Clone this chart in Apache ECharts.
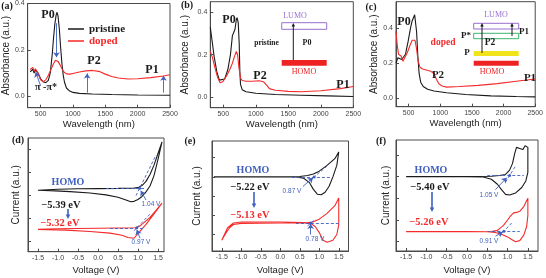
<!DOCTYPE html>
<html><head><meta charset="utf-8">
<script src="https://cdn.jsdelivr.net/npm/echarts@6/dist/echarts.min.js"></script>
<style>html,body{margin:0;padding:0;background:#fff}#c{width:546px;height:278px}</style>
</head><body><div id="c"></div>
<script>
// ---------- DATA ----------
// (a) absorbance vs wavelength (nm)
const aPriX = [340,360,380,400,420,440,460,480,500,540,580,620,650,680,700,720,740,755,770,790,810,830,850,870,900,950,1000,1100,1300,1600,2000,2500];
const aPriY = [0.105,0.112,0.116,0.1,0.112,0.115,0.1,0.088,0.075,0.062,0.058,0.068,0.1,0.18,0.25,0.31,0.35,0.362,0.345,0.29,0.21,0.14,0.09,0.06,0.035,0.022,0.016,0.012,0.009,0.007,0.005,0.004];
const aDopX = [340,360,380,400,420,440,460,480,500,540,580,620,660,700,730,750,770,800,830,860,900,950,1000,1100,1200,1300,1400,1500,1600,1700,1850,2000,2200,2400,2500];
const aDopY = [0.115,0.12,0.124,0.108,0.118,0.12,0.1,0.085,0.07,0.062,0.07,0.09,0.115,0.14,0.155,0.157,0.15,0.135,0.118,0.104,0.096,0.095,0.098,0.104,0.109,0.111,0.107,0.095,0.085,0.078,0.074,0.075,0.08,0.087,0.092];
// (b)
const bPriX = [300,330,360,400,440,470,520,570,610,640,660,680,700,712,730,745,755,765,790,850,1000,1300,1700,2100,2500];
const bPriY = [0.33,0.26,0.19,0.12,0.08,0.072,0.085,0.13,0.2,0.29,0.305,0.32,0.365,0.375,0.35,0.25,0.12,0.06,0.035,0.025,0.018,0.012,0.009,0.006,0.003];
const bDopX = [300,330,370,410,450,490,550,600,640,670,700,720,740,765,790,850,950,1050,1120,1170,1210,1300,1500,1700,2000,2300,2500];
const bDopY = [0.215,0.19,0.14,0.095,0.068,0.072,0.1,0.13,0.16,0.19,0.215,0.2,0.14,0.09,0.078,0.075,0.075,0.077,0.072,0.055,0.04,0.032,0.027,0.025,0.03,0.04,0.05];
// (c)
const cPriX = [300,330,360,390,420,450,490,530,555,575,595,610,625,645,665,690,730,800,900,1100,1400,1800,2200,2500];
const cPriY = [0.2,0.23,0.24,0.22,0.215,0.25,0.32,0.4,0.44,0.45,0.475,0.47,0.38,0.24,0.14,0.09,0.065,0.05,0.04,0.03,0.02,0.012,0.008,0.006];
const cDopX = [300,320,340,360,380,410,440,480,520,555,580,600,625,650,680,720,780,850,900,940,980,1030,1100,1300,1600,1900,2200,2500];
const cDopY = [0.38,0.3,0.25,0.255,0.24,0.21,0.22,0.26,0.3,0.33,0.337,0.33,0.28,0.21,0.175,0.165,0.16,0.152,0.14,0.105,0.08,0.068,0.062,0.065,0.072,0.082,0.095,0.108];
// (d) cyclic voltammetry, current in arbitrary units
const dPriV = [-1.5,-1.0,-0.5,0,0.5,0.9,1.0,1.1,1.2,1.3,1.4,1.5,1.6,1.5,1.4,1.3,1.2,1.1,1.0,0.9,0.82,0.7,0.5,0.2,-0.2,-0.7,-1.2,-1.5];
const dPriI = [2.22,2.26,2.28,2.29,2.3,2.31,2.33,2.42,2.6,2.9,3.3,3.8,4.3,3.55,2.85,2.4,2.15,1.95,1.82,1.74,1.72,1.8,1.92,2.02,2.1,2.16,2.2,2.22];
const dDopV = [-1.5,-1.0,0,0.5,0.95,1.05,1.15,1.3,1.45,1.6,1.4,1.2,1.0,0.9,0.85,0.75,0.6,0.3,-0.2,-0.8,-1.5];
const dDopI = [0.53,0.56,0.58,0.59,0.6,0.68,0.82,1.05,1.35,1.66,1.2,0.75,0.35,0.15,0.1,0.18,0.28,0.37,0.44,0.5,0.53];
// (e)
const ePriV = [-1.7,-1.0,0,0.5,0.7,0.85,1.0,1.2,1.4,1.5,1.45,1.35,1.25,1.15,1.05,0.95,0.85,0.75,0.6,0.4,0,-1.0,-1.7];
const ePriI = [3.0,3.0,3.0,3.02,3.07,3.15,3.3,3.6,3.95,4.3,3.6,3.0,2.5,2.2,2.07,2.1,2.35,2.7,2.93,3.0,3.01,3.01,3.0];
const eDopV = [-1.5,-1.4,-1.3,-1.2,-1.0,0,0.6,0.8,1.0,1.2,1.4,1.5,1.5,1.45,1.35,1.2,1.1,1.0,0.9,0.8,0.6,0,-1.0,-1.2,-1.35,-1.5];
const eDopI = [-0.3,0.05,0.35,0.52,0.58,0.6,0.6,0.63,0.8,1.1,1.5,1.9,0.5,0.0,-0.3,-0.4,-0.3,0.1,0.4,0.55,0.62,0.65,0.65,0.6,0.35,-0.3];
// (f)
const fPriV = [-1.5,0,0.6,0.8,0.95,1.05,1.12,1.18,1.22,1.3,1.38,1.43,1.5,1.5,1.45,1.35,1.2,1.05,0.95,0.85,0.75,0.6,0.4,0,-1.5];
const fPriI = [3.0,3.0,3.02,3.05,3.1,3.3,3.6,4.1,4.35,4.3,4.25,4.42,4.35,3.2,2.8,2.5,2.25,2.15,2.18,2.4,2.65,2.88,2.98,3.0,3.0];
const fDopV = [-1.5,0,0.6,0.75,0.9,1.0,1.08,1.15,1.22,1.3,1.4,1.5,1.5,1.47,1.4,1.3,1.2,1.1,1.0,0.85,0.7,0.5,0,-1.5];
const fDopI = [0.46,0.46,0.47,0.52,0.75,1.0,1.2,1.33,1.35,1.4,1.62,2.0,1.2,0.7,0.3,0.05,0.0,0.1,0.22,0.34,0.42,0.46,0.47,0.47];
// tick labels
const wlTicks = [500,1000,1500,2000,2500];
const vTicks = [-1.5,-1.0,-0.5,0,0.5,1.0,1.5];
const absTicksA = [0,0.2,0.4];
const absTicksB = [0,0.2,0.4];
const absTicksC = [0,0.2,0.4];
const curTicks = [0,1,2,3,4];
// annotation values
const homoPristine = ['−5.39 eV','−5.22 eV','−5.40 eV'];
const homoDoped = ['−5.32 eV','−5.13 eV','−5.26 eV'];
const onsetPristine = [1.04,0.87,1.05];
const onsetDoped = [0.97,0.78,0.91];

// ---------- STYLE ----------
const SANS = '"Liberation Sans", Arial, sans-serif';
const SERIF = '"Liberation Serif", "Times New Roman", serif';
const AX = '#4a4a4a';
const BLK = '#1a1a1a';
const RED = '#f52a2a';
const BLUE = '#4060c0';
const PURPLE = '#9a6fd0';
const zip = (xs, ys) => xs.map((x, i) => [x, ys[i]]);

const grids = [
  {left:27, top:1.7, width:143, height:106},
  {left:210.3, top:1.7, width:143, height:106},
  {left:396, top:1.7, width:141, height:105},
  {left:28, top:138, width:136, height:113.7},
  {left:212, top:141, width:136.5, height:110},
  {left:396, top:140, width:142, height:111}
].map(g => Object.assign(g, {show:true, borderColor:AX, borderWidth:1, backgroundColor:'transparent'}));

function xAx(gi, min, max, ticks, name, gap, fmt) {
  return {type:'value', gridIndex:gi, min, max, name, nameLocation:'middle', nameGap:gap,
    nameTextStyle:{fontFamily:SANS, fontSize:9.5, color:'#222'},
    axisLine:{show:true, onZero:false, lineStyle:{color:AX, width:1}},
    axisTick:{show:true, inside:true, length:3, customValues:ticks, lineStyle:{color:AX}},
    axisLabel:{customValues:ticks, fontFamily:SANS, fontSize:7, color:'#444', margin:3, formatter:fmt},
    splitLine:{show:false}};
}
function yAx(gi, min, max, ticks, name, gap, showLab) {
  return {type:'value', gridIndex:gi, min, max, name, nameLocation:'middle', nameGap:gap,
    nameTextStyle:{fontFamily:SANS, fontSize:10, color:'#222'},
    axisLine:{show:true, onZero:false, lineStyle:{color:AX, width:1}},
    axisTick:{show:true, inside:true, length:3, customValues:ticks, lineStyle:{color:AX}},
    axisLabel:{show:showLab, customValues:ticks, fontFamily:SANS, fontSize:7, color:'#444', margin:3, formatter:v => v.toFixed(1)},
    splitLine:{show:false}};
}
const wlFmt = v => String(v);
const vFmt = v => v.toFixed(1);

const xAxis = [
  xAx(0, 300, 2500, wlTicks, 'Wavelength (nm)', 12, wlFmt),
  xAx(1, 300, 2500, wlTicks, 'Wavelength (nm)', 12, wlFmt),
  xAx(2, 300, 2500, wlTicks, 'Wavelength (nm)', 12, wlFmt),
  xAx(3, -1.75, 1.65, vTicks, 'Voltage (V)', 14, vFmt),
  xAx(4, -1.75, 1.75, vTicks, 'Voltage (V)', 14, vFmt),
  xAx(5, -1.75, 1.75, vTicks, 'Voltage (V)', 14, vFmt)
];
const yAxis = [
  yAx(0, -0.05, 0.4, absTicksA, 'Absorbance (a.u.)', 14, true),
  yAx(1, -0.05, 0.45, absTicksB, 'Absorbance (a.u.)', 20, true),
  yAx(2, -0.05, 0.55, absTicksC, 'Absorbance (a.u.)', 17, true),
  yAx(3, -0.43, 4.47, curTicks, 'Current (a.u.)', 7, false),
  yAx(4, -0.86, 4.87, curTicks, 'Current (a.u.)', 10, false),
  yAx(5, -0.43, 4.69, curTicks, 'Current (a.u.)', 5, false)
];

function line(name, gi, data, color, extra) {
  return Object.assign({type:'line', name, xAxisIndex:gi, yAxisIndex:gi, data, symbol:'none', showSymbol:false,
    lineStyle:{color, width:1.1}, itemStyle:{color}, animation:false, silent:true, z:3}, extra || {});
}
function ml(pairs) {
  return {silent:true, animation:false, symbol:['none','none'], label:{show:false}, emphasis:{disabled:true},
    lineStyle:{color:BLUE, width:0.9, type:'solid'},
    data: pairs.map(p => [Object.assign({coord:p[0]}, p[2] || {}), {coord:p[1], symbol:p[3] || 'none', symbolSize:p[3] ? 5 : 0}])};
}
const ARROW = 'arrow';
const dash = {lineStyle:{type:[3,2], color:BLUE, width:0.9}};
function mp(pts) {
  return {silent:true, animation:false, symbol:'circle', symbolSize:3, label:{show:false}, itemStyle:{color:BLUE},
    data: pts.map(p => ({coord:p}))};
}

const series = [
  line('pristine', 0, zip(aPriX, aPriY), BLK),
  line('doped', 0, zip(aDopX, aDopY), RED, {markLine: ml([
    [[746,0.315],[746,0.168],null,ARROW],
    [[1220,0.015],[1220,0.098],null,ARROW],
    [[2400,0.015],[2400,0.088],null,ARROW],
    [[500,0.045],[425,0.103],null,ARROW]
  ])}),
  line('pb', 1, zip(bPriX, bPriY), BLK),
  line('db', 1, zip(bDopX, bDopY), RED),
  line('pc', 2, zip(cPriX, cPriY), BLK),
  line('dc', 2, zip(cDopX, cDopY), RED),
  line('pd', 3, zip(dPriV, dPriI), BLK, {markLine: ml([
    [[0.2,2.3],[1.2,2.3],dash],
    [[0.95,1.985],[1.45,3.735],dash],
    [[1.2,1.8],[1.07,2.2],null,ARROW]
  ]), markPoint: mp([[onsetPristine[0],2.3]])}),
  line('dd', 3, zip(dDopV, dDopI), RED, {markLine: ml([
    [[0.3,0.6],[1.15,0.6],dash],
    [[0.9,0.47],[1.3,1.19],dash],
    [[1.05,0.15],[0.97,0.52],null,ARROW]
  ]), markPoint: mp([[onsetDoped[0],0.6]])}),
  line('pe', 4, zip(ePriV, ePriI), BLK, {markLine: ml([
    [[0.3,3.0],[1.3,3.0],dash],
    [[0.75,2.8],[1.2,3.56],dash],
    [[0.58,2.5],[0.84,2.95],null,ARROW]
  ]), markPoint: mp([[onsetPristine[1],3.0]])}),
  line('de', 4, zip(eDopV, eDopI), RED, {markLine: ml([
    [[0.4,0.6],[1.5,0.6],dash],
    [[0.7,0.45],[0.9,0.8],dash],
    [[0.78,0.0],[0.78,0.55],null,ARROW]
  ]), markPoint: mp([[onsetDoped[1],0.6]])}),
  line('pf', 5, zip(fPriV, fPriI), BLK, {markLine: ml([
    [[0.5,3.05],[1.4,3.05],dash],
    [[0.95,2.75],[1.2,3.5],dash],
    [[0.7,2.4],[0.98,2.95],null,ARROW]
  ]), markPoint: mp([[onsetPristine[2],3.05]])}),
  line('df', 5, zip(fDopV, fDopI), RED, {markLine: ml([
    [[0.5,0.48],[1.3,0.48],dash],
    [[0.8,0.26],[1.1,0.86],dash],
    [[0.7,0.25],[0.88,0.45],null,ARROW]
  ]), markPoint: mp([[onsetDoped[2],0.48]])})
];

// ---------- ANNOTATIONS ----------
function T(text, x, y, o) {
  o = o || {};
  return {type:'text', x, y, silent:true, z:10, style:{text, fill:o.c || BLK,
    font:(o.w || 'bold') + ' ' + (o.s || 11) + 'px ' + (o.f || SERIF),
    textAlign:'center', textVerticalAlign:'middle', align:'center', verticalAlign:'middle'}};
}
function R(x, y, w, h, fill, stroke) {
  return {type:'rect', silent:true, z:10, shape:{x, y, width:w, height:h},
    style:{fill:fill || 'none', stroke:stroke || null, lineWidth:1}};
}
function A(x1, y1, x2, y2, c, lw, hs) {
  const ang = Math.atan2(y2 - y1, x2 - x1), h = hs || 4, cs = Math.cos(ang), sn = Math.sin(ang);
  const p1 = [x2 - h * cs + h * 0.5 * sn, y2 - h * sn - h * 0.5 * cs];
  const p2 = [x2 - h * cs - h * 0.5 * sn, y2 - h * sn + h * 0.5 * cs];
  return [
    {type:'line', silent:true, z:10, shape:{x1, y1, x2:x2 - h * 0.7 * cs, y2:y2 - h * 0.7 * sn}, style:{stroke:c, lineWidth:lw || 1}},
    {type:'polygon', silent:true, z:10, shape:{points:[[x2, y2], p1, p2]}, style:{fill:c}}
  ];
}
const g = [];
// panel letters
[['(a)',7,6],['(b)',187,5],['(c)',371,7],['(d)',18,140],['(e)',190,141],['(f)',381,141]].forEach(p => g.push(T(p[0], p[1], p[2], {s:10})));
// (a)
g.push(T('P0', 48, 15, {s:12}), T('P2', 94, 61, {s:12}), T('P1', 152, 70, {s:12}), T('π -π*', 46, 87, {s:10}));
// (b)
g.push(T('P0', 229, 20, {s:12}), T('P2', 260, 76, {s:12}), T('P1', 343, 85, {s:12}));
g.push(R(281.7, 22.7, 45, 6.6, null, PURPLE), R(281.7, 60, 45, 5.7, '#ee2222'));
g.push(...A(293.3, 60, 293.3, 23, BLK, 1, 3.5));
g.push(T('LUMO', 295, 16, {w:'normal', s:8, c:PURPLE}), T('pristine', 266.5, 43, {s:7.5}), T('P0', 307, 43, {s:8}), T('HOMO', 304, 72, {w:'normal', s:8, c:'#ee2222'}));
// (c)
g.push(T('P0', 404, 22, {s:12}), T('P2', 438, 75, {s:11}), T('P1', 530, 78, {s:11}), T('doped', 443, 43, {s:9.5, c:RED}));
g.push(R(473.7, 23.3, 45, 5.7, null, PURPLE), R(473.7, 33.3, 45, 5.4, null, '#3cb371'), R(473.7, 51, 45, 5, '#f2e41a'), R(473.7, 60.7, 45, 5, '#ee2222'));
g.push(...A(482, 53, 482, 23, BLK, 1, 3.5), ...A(512, 36, 512, 23, BLK, 1, 3.5));
g.push(T('LUMO', 496, 15, {w:'normal', s:8, c:PURPLE}), T('P*', 466, 36, {s:9}), T('P1', 524, 32, {s:9}), T('P2', 490, 43, {s:9.5}), T('P', 467, 53, {s:9}), T('HOMO', 492, 72, {w:'normal', s:8, c:'#ee2222'}));
// (d)(e)(f)
const lowPos = [
  {homo:[68,182], p:[61,205], ar:[68,209,68,219], d:[60,223], op:[151,204], od:[141,242]},
  {homo:[253,170], p:[250,187], ar:[254,192,254,208], d:[250,215], op:[292,191], od:[315,239]},
  {homo:[431,170], p:[430,187], ar:[432,192,432,212], d:[429,222], op:[489,195], od:[489,241]}
];
lowPos.forEach((q, i) => {
  g.push(T('HOMO', q.homo[0], q.homo[1], {s:10, c:BLUE}));
  g.push(T(homoPristine[i], q.p[0], q.p[1], {s:10.5}));
  g.push(...A(q.ar[0], q.ar[1], q.ar[2], q.ar[3], BLUE, 1.6, 4.5));
  g.push(T(homoDoped[i], q.d[0], q.d[1], {s:10.5, c:RED}));
  g.push(T(onsetPristine[i].toFixed(2) + ' V', q.op[0], q.op[1], {w:'normal', s:6.5, f:SANS, c:BLUE}));
  g.push(T(onsetDoped[i].toFixed(2) + ' V', q.od[0], q.od[1], {w:'normal', s:6.5, f:SANS, c:BLUE}));
});

const chart = echarts.init(document.getElementById('c'), null, {renderer:'canvas', width:546, height:278});
chart.setOption({
  animation:false,
  backgroundColor:'#fff',
  grid:grids, xAxis, yAxis, series,
  legend:{data:[{name:'pristine', textStyle:{color:BLK}}, {name:'doped', textStyle:{color:RED}}],
    left:63, top:18, orient:'vertical', icon:'rect', itemWidth:16, itemHeight:1.5, itemGap:0, selectedMode:false,
    textStyle:{fontFamily:SERIF, fontWeight:'bold', fontSize:11, lineHeight:12}},
  graphic:g
});
</script></body></html>
